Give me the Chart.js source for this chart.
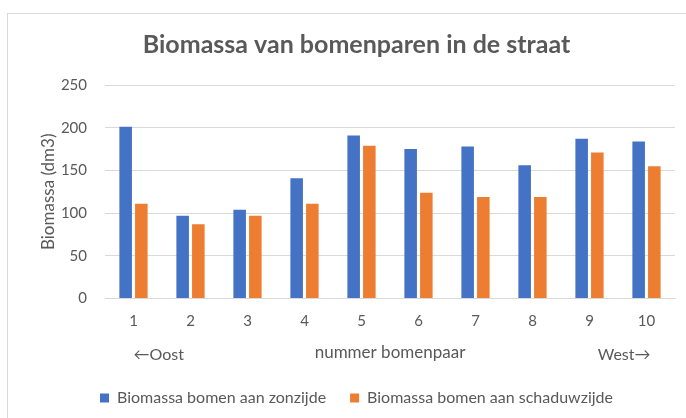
<!DOCTYPE html>
<html>
<head>
<meta charset="utf-8">
<script src="https://cdn.jsdelivr.net/npm/chart.js@4"></script>
<style>
  body { margin: 0; background: #fff; }
  #frame { position: absolute; left: 7px; top: 13px; width: 700px; height: 420px; border: 1px solid #d9d9d9; }
  #chart { position: absolute; left: 0; top: 0; }
</style>
</head>
<body>
<div id="frame"></div>
<canvas id="chart" width="686" height="418"></canvas>
<script>
// Biomassa van bomenparen in de straat
var pairs = ['1', '2', '3', '4', '5', '6', '7', '8', '9', '10'];
var sunSide = [201, 97, 104, 141, 191, 175, 178, 156, 187, 184];
var shadeSide = [111, 87, 97, 111, 179, 124, 119, 119, 171, 155];
var yTicks = [0, 50, 100, 150, 200, 250];

var grey = '#595959';
var font = 'Lato, "Open Sans", sans-serif';

// arrows below the axis, on the same line as the axis title
var directionLabels = {
    id: 'directionLabels',
    afterDraw: function (chart) {
        var ctx = chart.ctx;
        var x = chart.scales.x;
        var y = x.top + x.height - 11;
        ctx.save();
        ctx.font = '16px ' + font;
        ctx.fillStyle = grey;
        ctx.textBaseline = 'middle';
        ctx.textAlign = 'left';
        ctx.fillText('\u2190Oost', x.getPixelForValue(0), y);
        ctx.textAlign = 'right';
        ctx.fillText('West\u2192', x.getPixelForValue(pairs.length - 1) + 4, y);
        ctx.restore();
    }
};

var ctx = document.getElementById('chart').getContext('2d');
var chart = new Chart(ctx, {
    type: 'bar',
    data: {
        labels: pairs,
        datasets: [{
            label: 'Biomassa bomen aan zonzijde',
            data: sunSide,
            backgroundColor: '#4472C4'
        }, {
            label: 'Biomassa bomen aan schaduwzijde',
            data: shadeSide,
            backgroundColor: '#ED7D31'
        }]
    },
    options: {
        responsive: false,
        animation: false,
        layout: { padding: { left: 38, right: 11, top: 30, bottom: 2 } },
        categoryPercentage: 0.55,
        barPercentage: 0.8,
        plugins: {
            title: {
                display: true,
                text: 'Biomassa van bomenparen in de straat',
                color: grey,
                font: { family: font, size: 25, weight: 'bold' },
                padding: { top: 0, bottom: 25 }
            },
            legend: {
                position: 'bottom',
                labels: {
                    color: grey,
                    font: { family: font, size: 16 },
                    boxWidth: 9,
                    boxHeight: 9,
                    padding: 24
                }
            },
            tooltip: { enabled: false }
        },
        scales: {
            x: {
                grid: { display: false, drawTicks: false },
                border: { display: true, color: '#d9d9d9' },
                ticks: { color: grey, font: { family: font, size: 15 }, padding: 14 },
                title: {
                    display: true,
                    text: 'nummer bomenpaar',
                    color: grey,
                    font: { family: font, size: 17 },
                    padding: { top: -2, bottom: 3 }
                }
            },
            y: {
                min: 0,
                max: 250,
                afterBuildTicks: function (s) {
                    s.ticks = yTicks.map(function (v) { return { value: v }; });
                },
                afterFit: function (s) { s.width = 67; },
                grid: { color: '#d9d9d9', drawTicks: false },
                border: { display: false },
                ticks: { color: grey, font: { family: font, size: 15 }, padding: 18 },
                title: {
                    display: true,
                    text: 'Biomassa (dm3)',
                    color: grey,
                    font: { family: font, size: 17 },
                    padding: { top: 0, bottom: 0 }
                }
            }
        }
    },
    plugins: [directionLabels]
});
</script>
</body>
</html>
